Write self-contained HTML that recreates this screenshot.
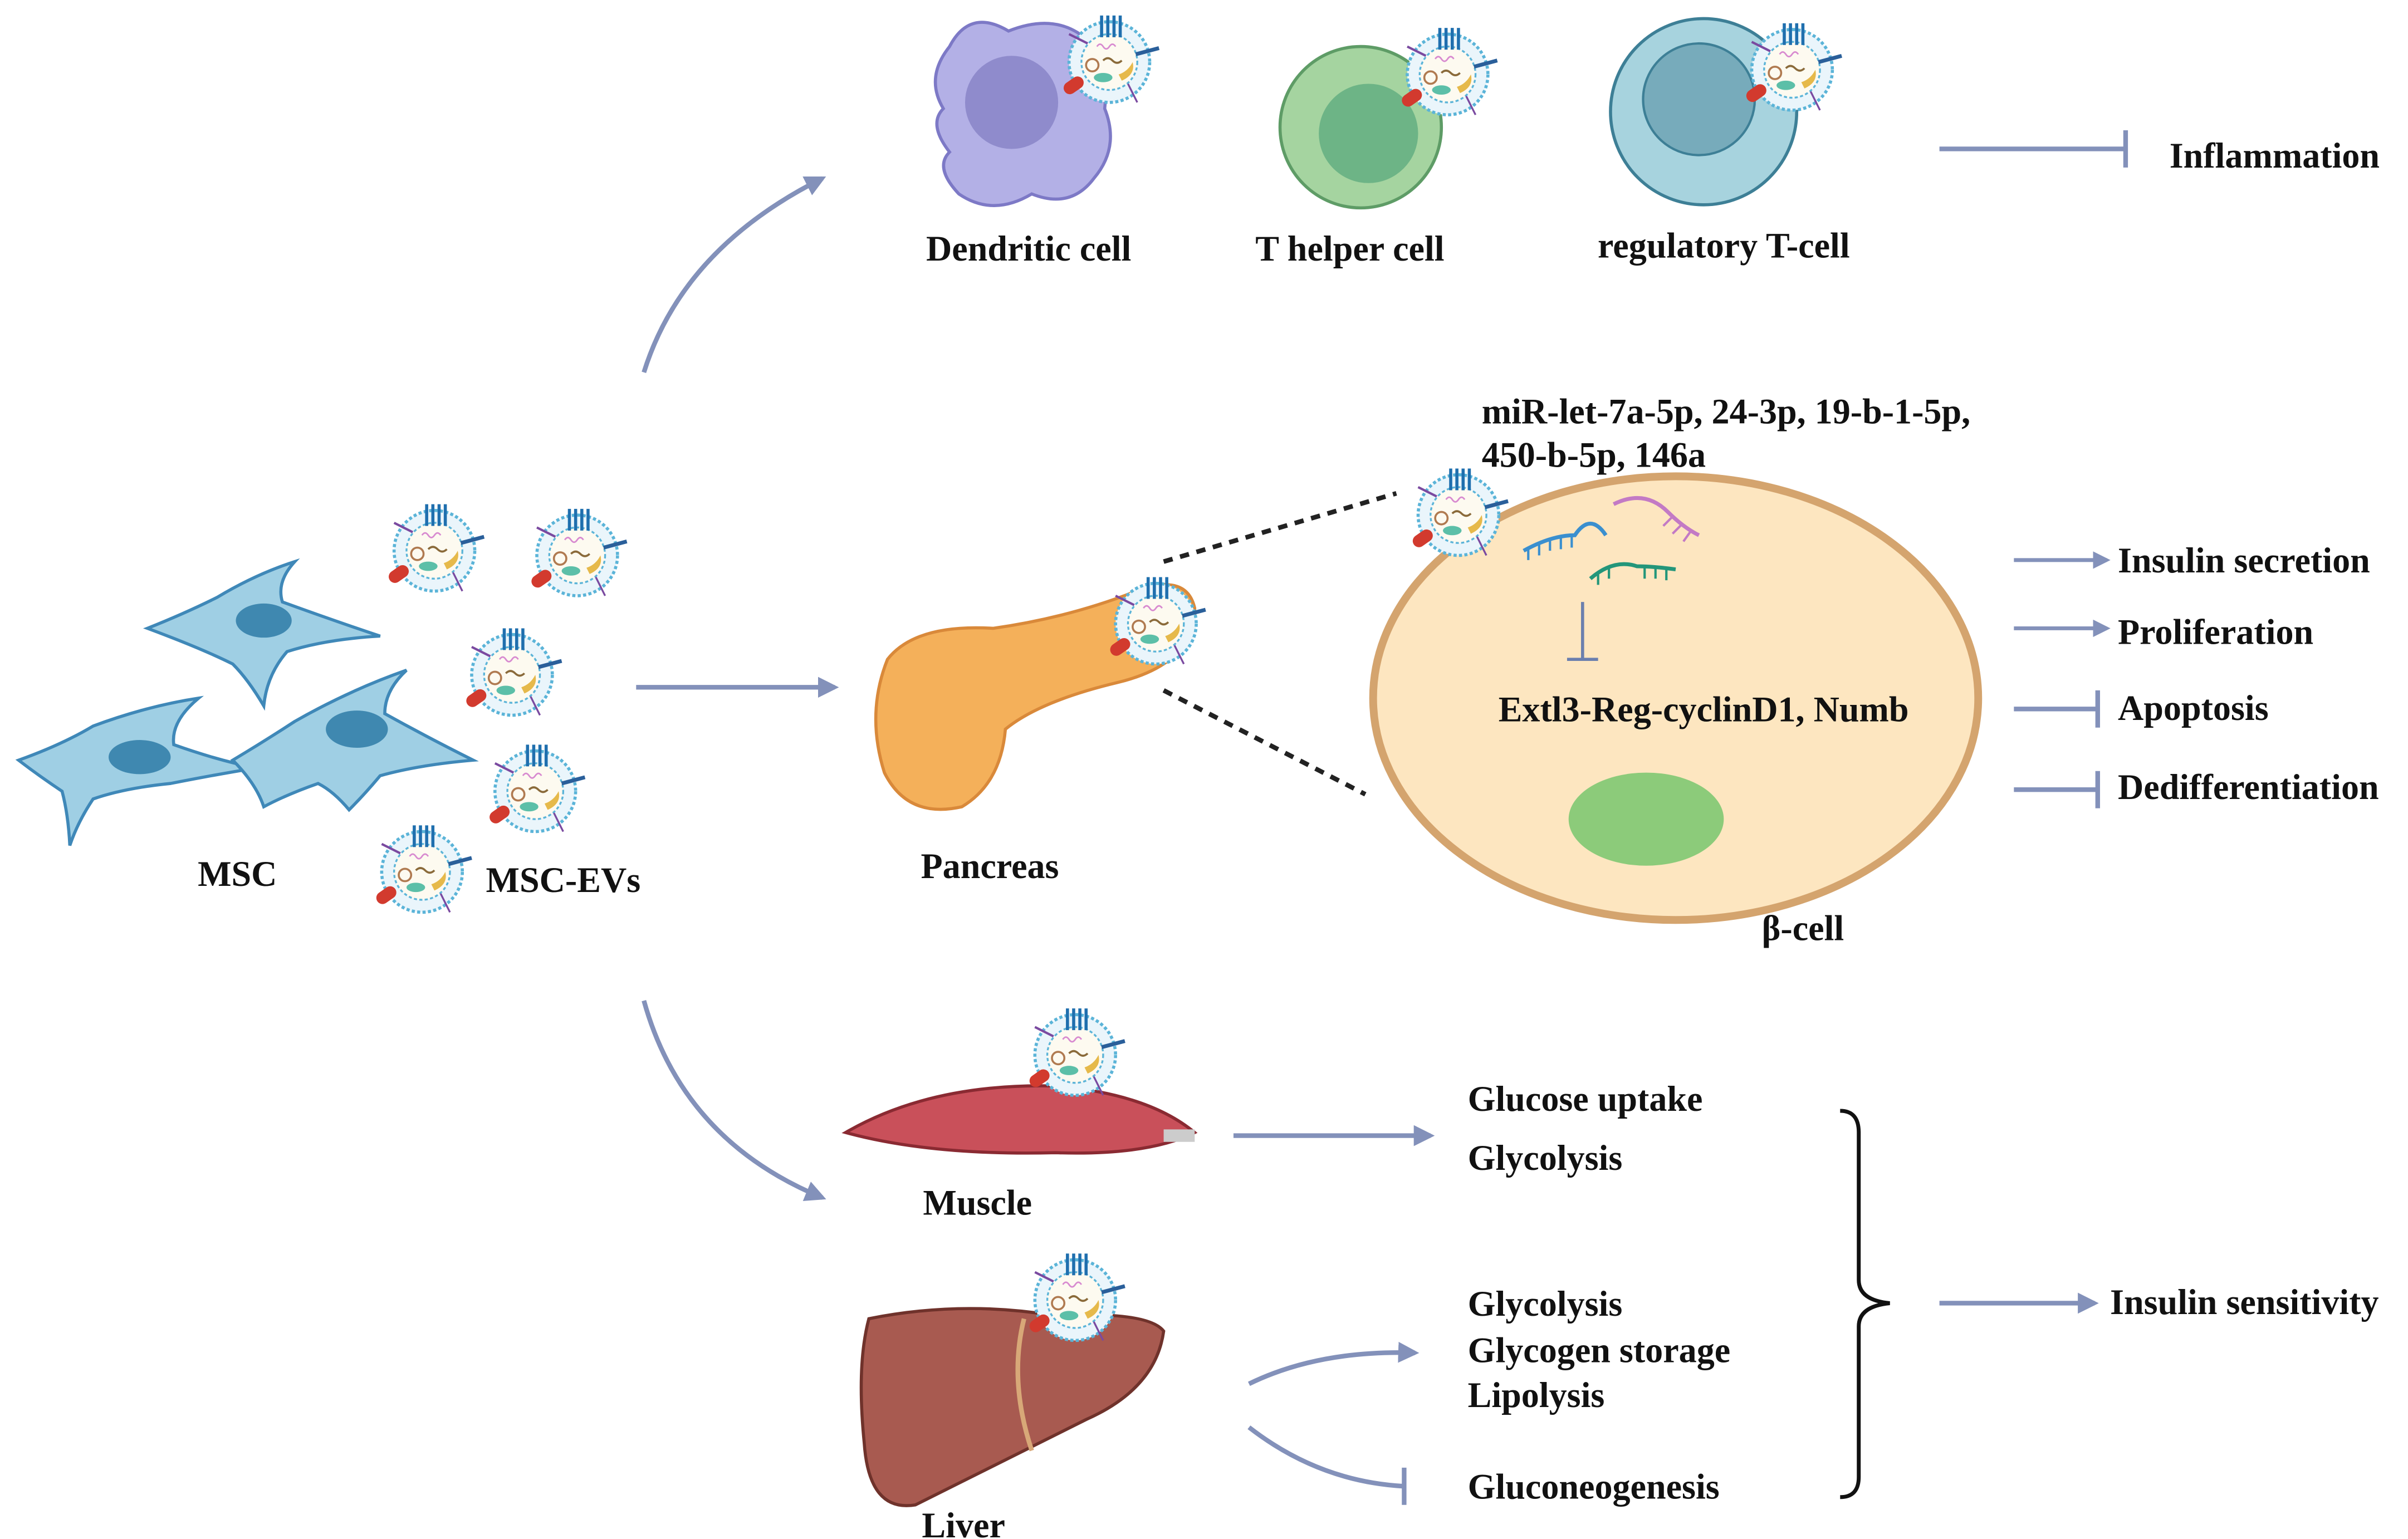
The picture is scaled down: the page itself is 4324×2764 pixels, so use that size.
<!DOCTYPE html>
<html><head><meta charset="utf-8"><style>html,body{margin:0;padding:0;background:#fff}svg{display:block}text{font-family:"Liberation Serif",serif;font-weight:bold;fill:#111}</style></head>
<body>
<svg width="4324" height="2764" viewBox="0 0 1552 992" preserveAspectRatio="none" xmlns="http://www.w3.org/2000/svg">
<defs>
<symbol id="ev" viewBox="-30 -30 60 60" overflow="visible">
<circle r="26" fill="#eaf5fb" stroke="#5bb4d8" stroke-width="2" stroke-dasharray="2 1.5"/>
<circle r="18" fill="#fdfaf0" stroke="#5bb4d8" stroke-width="1.2" stroke-dasharray="2 1.5"/>
<g stroke="#1f6fae" stroke-width="2"><line x1="-5" y1="-30" x2="-5" y2="-16"/><line x1="-1" y1="-30" x2="-1" y2="-16"/><line x1="3" y1="-30" x2="3" y2="-16"/><line x1="7" y1="-30" x2="7" y2="-16"/></g>
<circle cx="-11" cy="2" r="4" fill="none" stroke="#b07a50" stroke-width="1.3"/>
<ellipse cx="-4" cy="10" rx="6" ry="3" fill="#5cbfa8"/>
<path d="M6 8 q6 -2 9 -8 q2 8 -7 12 z" fill="#e6b94a"/>
<path d="M-4 -1 q3 -3 6 0 q3 3 6 0" stroke="#8a6a3a" fill="none" stroke-width="1.3"/>
<path d="M-8 -10 q2 -3 4 0 q2 3 4 0 q2 -3 4 0" stroke="#d88ad0" fill="none" stroke-width="1"/>
<rect x="-30" y="11" width="14" height="8" rx="4" fill="#d23a2e" transform="rotate(-35 -23 15)"/>
<line x1="-26" y1="-18" x2="-14" y2="-12" stroke="#7a4aa0" stroke-width="1.5"/>
<line x1="17" y1="-5" x2="32" y2="-9" stroke="#2a5f9a" stroke-width="2.5"/>
<line x1="12" y1="14" x2="18" y2="26" stroke="#7a4aa0" stroke-width="1.2"/>
</symbol>
<marker id="ah" viewBox="0 0 10 10" refX="8" refY="5" markerWidth="4.5" markerHeight="4.5" orient="auto"><path d="M0 0 L10 5 L0 10 z" fill="#8391ba"/></marker>
</defs>
<g stroke="#8391ba" stroke-width="3" fill="none">
<path d="M415 240 Q440 160 530 115" marker-end="url(#ah)"/>
<path d="M410 443 L538 443" marker-end="url(#ah)"/>
<path d="M415 645 Q440 735 530 772" marker-end="url(#ah)"/>
<path d="M1250 96 L1370 96 M1370 84 L1370 108"/>
<path d="M1298 361 L1358 361" marker-end="url(#ah)" stroke-width="2.5"/>
<path d="M1298 405 L1358 405" marker-end="url(#ah)" stroke-width="2.5"/>
<path d="M1298 457 L1352 457 M1352 445 L1352 469"/>
<path d="M1298 509 L1352 509 M1352 497 L1352 521"/>
<path d="M795 732 L922 732" marker-end="url(#ah)"/>
<path d="M805 892 Q850 870 912 872" marker-end="url(#ah)"/>
<path d="M805 920 Q850 955 905 958 M905 946 L905 970"/>
<path d="M1250 840 L1350 840" marker-end="url(#ah)"/>
</g>
<!-- MSC cells -->
<g fill="#9fcfe4" stroke="#3f88b8" stroke-width="2">
<path d="M95 405 Q120 395 140 385 Q165 370 190 362 Q178 375 182 388 Q215 400 245 410 Q210 412 185 420 Q172 435 170 455 Q160 438 150 428 Q130 418 95 405 z"/>
<path d="M12 490 Q40 480 60 468 Q95 455 128 450 Q110 465 112 480 Q140 490 165 495 Q135 500 110 505 Q80 508 60 515 Q50 530 45 545 Q44 525 40 510 Q25 500 12 490 z"/>
<path d="M150 490 Q170 478 190 465 Q225 445 262 432 Q248 445 248 460 Q275 475 305 490 Q270 493 245 500 Q235 512 225 522 Q215 510 205 505 Q185 512 170 520 Q165 505 150 490 z"/>
</g>
<g fill="#3f88b0"><ellipse cx="170" cy="400" rx="18" ry="11"/><ellipse cx="90" cy="488" rx="20" ry="11"/><ellipse cx="230" cy="470" rx="20" ry="12"/></g>
<use href="#ev" x="250" y="325" width="60" height="60"/>
<use href="#ev" x="342" y="328" width="60" height="60"/>
<use href="#ev" x="300" y="405" width="60" height="60"/>
<use href="#ev" x="315" y="480" width="60" height="60"/>
<use href="#ev" x="242" y="532" width="60" height="60"/>
<text x="153" y="571" font-size="23" text-anchor="middle">MSC</text>
<text x="363" y="575" font-size="23" text-anchor="middle">MSC-EVs</text>
<!-- immune cells -->
<path d="M612 30 Q625 5 650 20 Q680 8 700 25 Q715 45 712 70 Q722 95 705 115 Q690 135 665 125 Q640 140 618 125 Q602 108 612 98 Q598 80 608 70 Q596 50 612 30 z" fill="#b3b0e6" stroke="#7d79c6" stroke-width="2"/>
<ellipse cx="652" cy="66" rx="30" ry="30" fill="#8f8bcc"/>
<use href="#ev" x="685" y="10" width="60" height="60"/>
<circle cx="877" cy="82" r="52" fill="#a5d4a0" stroke="#5e9c66" stroke-width="2"/>
<circle cx="882" cy="86" r="32" fill="#6db486"/>
<use href="#ev" x="903" y="18" width="60" height="60"/>
<circle cx="1098" cy="72" r="60" fill="#a7d3de" stroke="#3d7f96" stroke-width="2"/>
<circle cx="1095" cy="64" r="36" fill="#77abbb" stroke="#3d7f96" stroke-width="1.5"/>
<use href="#ev" x="1125" y="15" width="60" height="60"/>
<text x="663" y="168" font-size="23" text-anchor="middle">Dendritic cell</text>
<text x="870" y="168" font-size="23" text-anchor="middle">T helper cell</text>
<text x="1111" y="166" font-size="23" text-anchor="middle">regulatory T-cell</text>
<text x="1466" y="108" font-size="23" text-anchor="middle">Inflammation</text>
<!-- pancreas -->
<path d="M572 425 Q590 402 640 405 Q690 398 735 380 Q765 370 770 392 Q770 428 720 440 Q670 452 648 470 Q645 505 620 520 Q585 528 570 498 Q558 460 572 425 z" fill="#f4b05a" stroke="#d9893a" stroke-width="2"/>
<use href="#ev" x="715" y="372" width="60" height="60"/>
<text x="638" y="566" font-size="23" text-anchor="middle">Pancreas</text>
<g stroke="#222" stroke-width="3" stroke-dasharray="6 5"><line x1="750" y1="362" x2="900" y2="318"/><line x1="750" y1="445" x2="880" y2="512"/></g>
<!-- beta cell -->
<ellipse cx="1080" cy="450" rx="195" ry="143" fill="#fde6c0" stroke="#d4a46e" stroke-width="5"/>
<ellipse cx="1061" cy="528" rx="50" ry="30" fill="#8ccb7a"/>
<use href="#ev" x="910" y="302" width="60" height="60"/>
<g fill="none" stroke-width="2.5">
<path d="M982 355 Q1000 345 1015 345 Q1025 330 1035 345" stroke="#3a8fcf"/>
<path d="M985 353 l0 8 M992 350 l0 8 M999 347 l0 8 M1006 346 l0 8 M1013 345 l0 8" stroke="#3a8fcf" stroke-width="1.5"/>
<path d="M1040 325 Q1060 315 1075 330 Q1085 340 1095 345" stroke="#c37ac5"/>
<path d="M1078 333 l-6 6 M1084 338 l-6 6 M1090 342 l-5 7" stroke="#c37ac5" stroke-width="1.5"/>
<path d="M1025 373 Q1040 360 1055 365 Q1065 365 1080 367" stroke="#23967a"/>
<path d="M1030 370 l0 7 M1037 366 l0 7 M1060 366 l0 7 M1067 366 l0 7 M1074 367 l0 7" stroke="#23967a" stroke-width="1.5"/>
</g>
<path d="M1020 388 L1020 425 M1010 425 L1030 425" stroke="#6b7fae" stroke-width="2" fill="none"/>
<text x="955" y="273" font-size="23">miR-let-7a-5p, 24-3p, 19-b-1-5p,</text>
<text x="955" y="301" font-size="23">450-b-5p, 146a</text>
<text x="1098" y="465" font-size="23" text-anchor="middle">Extl3-Reg-cyclinD1, Numb</text>
<text x="1162" y="606" font-size="23" text-anchor="middle">β-cell</text>
<text x="1365" y="369" font-size="23">Insulin secretion</text>
<text x="1365" y="415" font-size="23">Proliferation</text>
<text x="1365" y="464" font-size="23">Apoptosis</text>
<text x="1365" y="515" font-size="23">Dedifferentiation</text>
<!-- muscle -->
<path d="M545 730 Q600 698 680 700 Q740 705 770 730 Q740 745 680 743 Q600 745 545 730 z" fill="#c9505a" stroke="#8a2a32" stroke-width="2"/>
<path d="M750 728 L770 728 L770 736 L750 736 z" fill="#ccc"/>
<use href="#ev" x="663" y="650" width="60" height="60"/>
<text x="630" y="783" font-size="23" text-anchor="middle">Muscle</text>
<!-- liver -->
<path d="M560 850 Q620 838 680 848 Q740 845 750 858 Q745 895 700 915 Q640 945 590 970 Q560 975 557 930 Q552 880 560 850 z" fill="#a85a50" stroke="#6f322b" stroke-width="2"/>
<path d="M660 850 Q650 890 665 935" stroke="#d8a878" stroke-width="3" fill="none"/>
<use href="#ev" x="663" y="808" width="60" height="60"/>
<text x="621" y="991" font-size="23" text-anchor="middle">Liver</text>
<g font-size="23">
<text x="946" y="716">Glucose uptake</text>
<text x="946" y="754">Glycolysis</text>
<text x="946" y="848">Glycolysis</text>
<text x="946" y="878">Glycogen storage</text>
<text x="946" y="907">Lipolysis</text>
<text x="946" y="966">Gluconeogenesis</text>
<text x="1360" y="847">Insulin sensitivity</text>
</g>
<path d="M1186 716 Q1198 716 1198 730 L1198 825 Q1198 838 1218 840 Q1198 842 1198 855 L1198 952 Q1198 965 1186 965" fill="none" stroke="#111" stroke-width="2.5"/>
</svg>
</body></html>
